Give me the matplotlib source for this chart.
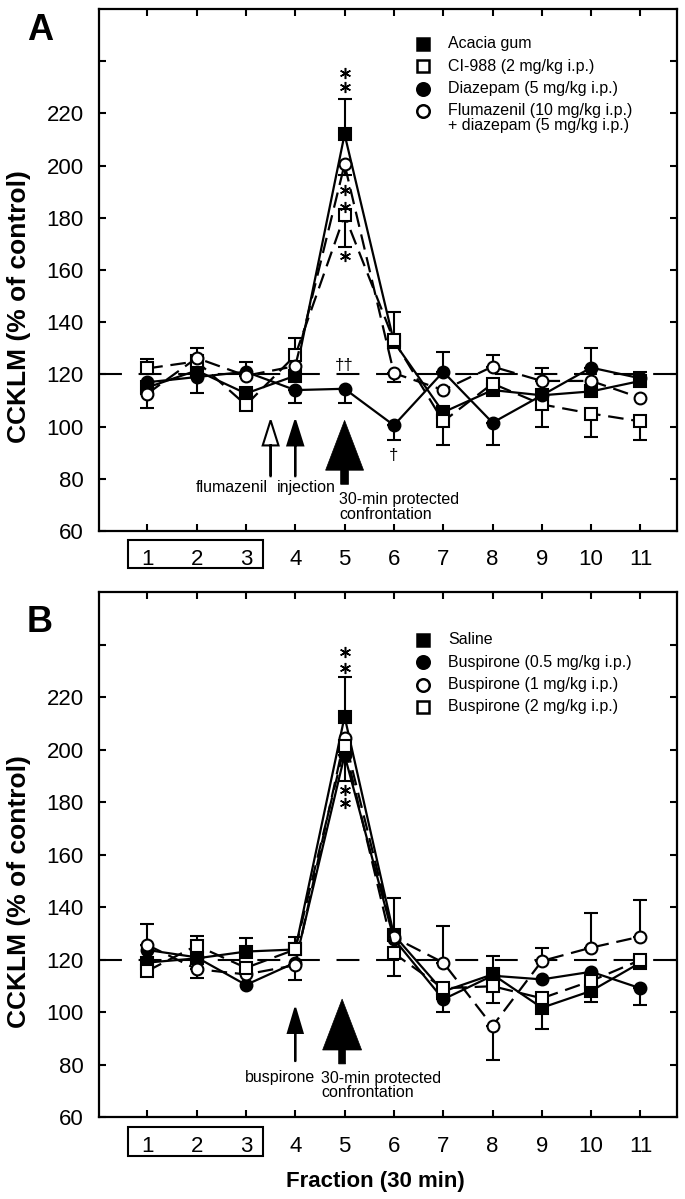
import numpy as np
import matplotlib
matplotlib.use("Agg")
import matplotlib.pyplot as plt
import matplotlib.transforms as mtransforms
from matplotlib.patches import Rectangle

plt.rcParams["font.family"] = ["Liberation Sans", "DejaVu Sans"]

# ---- data ----
fractions = np.arange(1, 12)
x_tick_labels = [str(i) for i in fractions]
y_ticks = np.arange(60, 241, 20)
y_tick_labels = [str(v) if v <= 220 else "" for v in y_ticks]

# panel A
a_labels = ["Acacia gum", "CI-988 (2 mg/kg i.p.)", "Diazepam (5 mg/kg i.p.)",
            "Flumazenil (10 mg/kg i.p.)\n+ diazepam (5 mg/kg i.p.)"]
acacia = [115, 121.5, 112.7, 119.5, 212, 132.5, 105.5, 114, 112, 113.5, 117.5]
acacia_up = [0, 0, 0, 0, 13.5, 0, 0, 0, 0, 0, 3.5]
acacia_dn = [0] * 11
ci988 = [122.3, 125, 108.3, 127.3, 181, 133, 102, 116.5, 108.5, 105, 102]
ci988_up = [3.5, 0, 0, 6.5, 0, 11, 0, 0, 0, 0, 0]
ci988_dn = [0, 0, 0, 0, 12.3, 0, 9, 0, 8.5, 9, 7]
diazepam = [117, 119, 121, 114, 114.5, 100.5, 121, 101.5, 112, 122.6, 118.5]
diazepam_up = [0, 0, 0, 0, 0, 0, 7.5, 0, 0, 7.5, 0]
diazepam_dn = [0, 6, 0, 5, 5.5, 5.5, 0, 8.5, 0, 0, 0]
fluma = [112.6, 126.3, 119.5, 123.2, 200.5, 120.5, 114, 123, 117.5, 117.5, 111]
fluma_up = [0, 3.7, 5.2, 0, 0, 0, 0, 4.6, 5, 0, 0]
fluma_dn = [5.6, 0, 0, 0, 4, 3.5, 0, 0, 0, 0, 0]

# panel B
b_labels = ["Saline", "Buspirone (0.5 mg/kg i.p.)", "Buspirone (1 mg/kg i.p.)",
            "Buspirone (2 mg/kg i.p.)"]
saline = [119, 120.6, 123.2, 124, 212.7, 129.5, 108, 114.5, 101.8, 108.2, 119]
saline_up = [0, 0, 5, 0, 15, 14, 0, 7, 0, 0, 0]
saline_dn = [0, 0, 0, 0, 0, 0, 0, 0, 8, 4.2, 0]
busp05 = [123.8, 121, 110.5, 119, 198, 128, 105, 114, 112.6, 115.5, 109.2]
busp05_up = [0] * 11
busp05_dn = [0, 0, 0, 0, 10, 0, 4.7, 0, 0, 0, 6.2]
busp1 = [125.7, 116.5, 114.5, 118, 204.5, 128.6, 119, 94.8, 119.6, 124.7, 128.9]
busp1_up = [8, 0, 0, 0, 0, 0, 14, 0, 5, 13.3, 14]
busp1_dn = [0, 3.5, 0, 5.6, 0, 0, 0, 13, 0, 0, 0]
busp2 = [115.8, 125.5, 117, 124, 201.5, 122.5, 109.2, 110, 105.4, 112, 120]
busp2_up = [0, 3.8, 0, 4.6, 0, 0, 0, 0, 0, 0, 0]
busp2_dn = [0, 0, 0, 0, 0, 8.6, 0, 6.5, 0, 0, 0]

# marker, filled, dashed
a_styles = [("s", True, False), ("s", False, True), ("o", True, False), ("o", False, True)]
b_styles = [("s", True, False), ("o", True, False), ("o", False, True), ("s", False, True)]


def draw_series(ax, y, up, dn, style):
    marker, filled, dashed = style
    y = np.array(y, dtype=float)
    up = np.array(up, dtype=float)
    dn = np.array(dn, dtype=float)
    m = (up > 0) | (dn > 0)
    ax.errorbar(fractions[m], y[m], yerr=[dn[m], up[m]], fmt="none", ecolor="black",
                elinewidth=1.5, capsize=5, capthick=1.5, zorder=2)
    ls = (0, (7, 3.5)) if dashed else "-"
    ax.plot(fractions, y, color="black", lw=1.6, linestyle=ls, marker=marker, ms=8.5,
            mfc="black" if filled else "white", mec="black", mew=1.5, zorder=3)


def draw_legend(ax, labels, styles, y0, step):
    y = y0
    for label, (marker, filled, dashed) in zip(labels, styles):
        ax.plot([0.5606], [y], transform=ax.transAxes, marker=marker, ms=9,
                mfc="black" if filled else "white", mec="black", mew=1.8,
                linestyle="none", clip_on=False)
        for i, line in enumerate(label.split("\n")):
            ax.text(0.6038, y - i * 0.029, line, transform=ax.transAxes,
                    fontsize=11.5, va="center", ha="left")
        y -= step


def style_axes(ax, box_y):
    ax.set_xlim(0.02, 11.74)
    ax.set_ylim(60, 260)
    ax.set_xticks(fractions)
    ax.set_xticklabels(x_tick_labels)
    ax.set_yticks(y_ticks)
    ax.set_yticklabels(y_tick_labels)
    for s in ax.spines.values():
        s.set_linewidth(1.6)
    ax.tick_params(direction="in", length=5, width=1.5, top=True, right=True, labelsize=16)
    ax.tick_params(axis="x", pad=13)
    ax.tick_params(axis="y", pad=11)
    ax.axhline(120, color="black", lw=1.5, dashes=(11, 8), zorder=1)
    ax.set_ylabel("CCKLM (% of control)", fontsize=19, fontweight="bold", va="center")
    ax.yaxis.set_label_coords(-0.138, 0.43)
    trans = mtransforms.blended_transform_factory(ax.transData, ax.transAxes)
    ax.add_patch(Rectangle((0.6, box_y[1]), 2.74, box_y[0] - box_y[1], transform=trans,
                           fill=False, lw=1.5, ec="black", clip_on=False))


def asterisks(ax, x, ys):
    ax.plot([x] * len(ys), ys, linestyle="none", marker=(6, 2, 0), ms=8, mew=1.1,
            color="black", zorder=5)


fig = plt.figure(figsize=(6.85, 11.99), dpi=100)
axA = fig.add_axes([0.1445, 0.5571, 0.8438, 0.4354])
axB = fig.add_axes([0.1445, 0.0680, 0.8438, 0.4379])

# ---- panel A ----
style_axes(axA, (-0.0172, -0.0709))
for y, up, dn, st in zip([acacia, ci988, diazepam, fluma],
                         [acacia_up, ci988_up, diazepam_up, fluma_up],
                         [acacia_dn, ci988_dn, diazepam_dn, fluma_dn], a_styles):
    draw_series(axA, y, up, dn, st)
draw_legend(axA, a_labels, a_styles, 0.933, 0.0427)
asterisks(axA, 5, [230, 235.5])
asterisks(axA, 5, [184.2, 190.5])
asterisks(axA, 5, [165.5])
axA.text(5, 123.5, "††", ha="center", va="center", fontsize=12)
axA.text(6, 89, "†", ha="center", va="center", fontsize=12)

# arrows
axA.arrow(3.5, 81, 0, 21.4, width=0.001, head_width=0.32, head_length=9.6,
          length_includes_head=True, fc="white", ec="black", lw=1.5)
axA.arrow(4.0, 81, 0, 21.4, width=0.001, head_width=0.32, head_length=9.6,
          length_includes_head=True, fc="black", ec="black", lw=1.5)
axA.arrow(5.0, 77.9, 0, 24.5, width=0.16, head_width=0.77, head_length=19.1,
          length_includes_head=True, fc="black", ec="black", lw=0.5)
axA.text(2.72, 76.8, "flumazenil", ha="center", va="center", fontsize=11.5)
axA.text(4.22, 76.8, "injection", ha="center", va="center", fontsize=11.5)
axA.text(4.89, 69.3, "30-min protected\nconfrontation", ha="left", va="center",
         fontsize=11.5, linespacing=1.0)

# ---- panel B ----
style_axes(axB, (-0.018, -0.073))
for y, up, dn, st in zip([saline, busp05, busp1, busp2],
                         [saline_up, busp05_up, busp1_up, busp2_up],
                         [saline_dn, busp05_dn, busp1_dn, busp2_dn], b_styles):
    draw_series(axB, y, up, dn, st)
draw_legend(axB, b_labels, b_styles, 0.9095, 0.0425)
asterisks(axB, 5, [231.2, 237.3])
asterisks(axB, 5, [179.8, 184.8])

axB.arrow(4.0, 81.5, 0, 20.2, width=0.001, head_width=0.3, head_length=9.5,
          length_includes_head=True, fc="black", ec="black", lw=1.5)
axB.arrow(4.95, 80.4, 0, 24.7, width=0.14, head_width=0.79, head_length=19.4,
          length_includes_head=True, fc="black", ec="black", lw=0.5)
axB.text(3.69, 75.1, "buspirone", ha="center", va="center", fontsize=11.5)
axB.text(4.52, 72.2, "30-min protected\nconfrontation", ha="left", va="center",
         fontsize=11.5, linespacing=0.95)

fig.text(375 / 685, 1 - 1182 / 1199, "Fraction (30 min)", ha="center", va="center",
         fontsize=16, fontweight="bold")
fig.text(40 / 685, 1 - 30 / 1199, "A", ha="center", va="center", fontsize=26,
         fontweight="bold")
fig.text(40 / 685, 1 - 622 / 1199, "B", ha="center", va="center", fontsize=26,
         fontweight="bold")

fig.savefig("out.png", dpi=100, facecolor="white")
